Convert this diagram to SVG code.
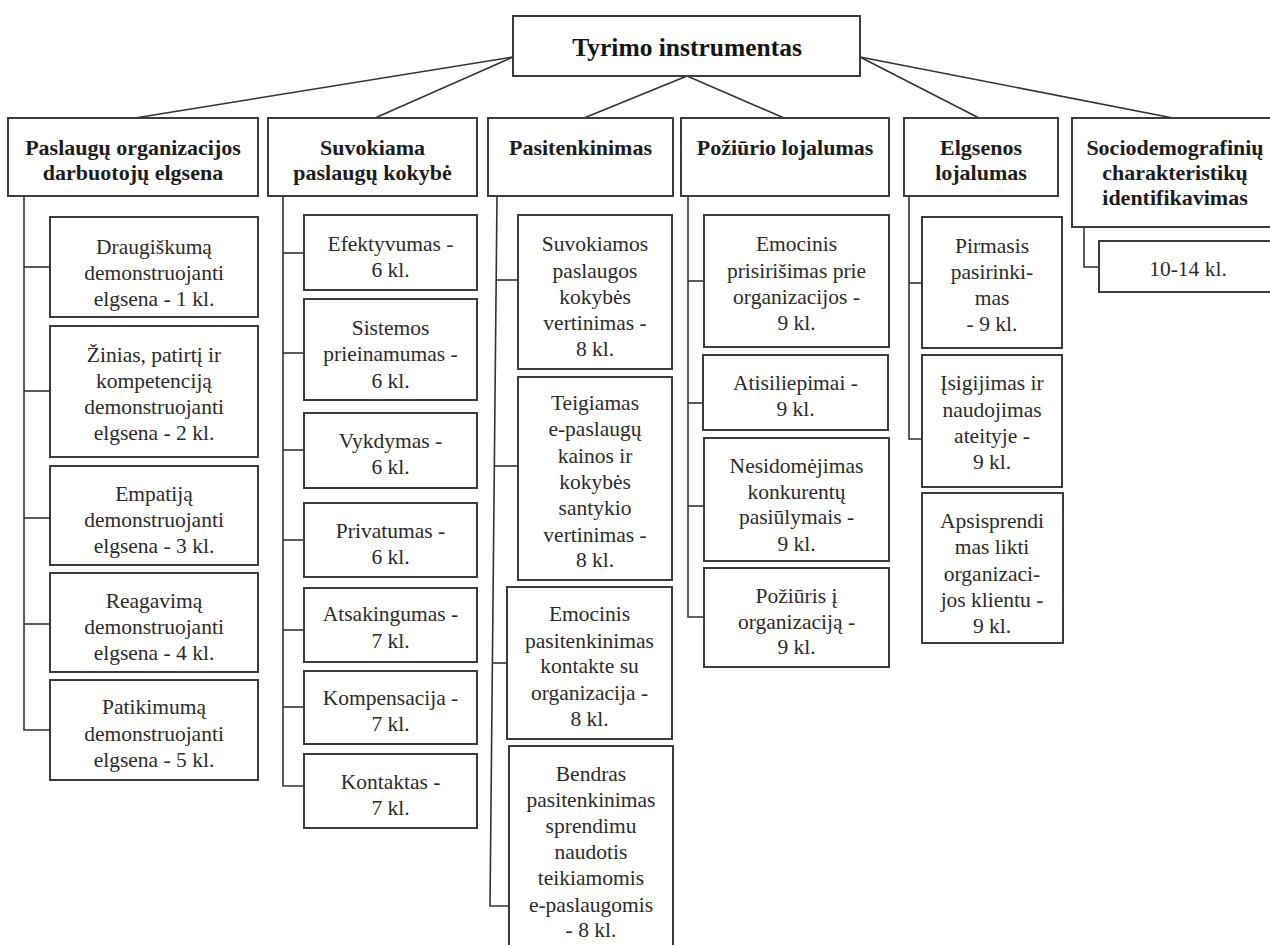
<svg xmlns="http://www.w3.org/2000/svg" width="1270" height="945" viewBox="0 0 1270 945">
  <style>
    .box { fill: #ffffff; stroke: #3c3c3c; stroke-width: 2; }
    .ln { fill: none; stroke: #333333; stroke-width: 1.6; }
    .t { font-size: 21.5px; fill: #2b2b2b; }
    .h { font-size: 22px; font-weight: bold; fill: #1c1c1c; }
    .r { font-size: 25.5px; font-weight: bold; fill: #141414; }
  </style>
  <rect width="1270" height="945" fill="#ffffff"/>

  <!-- connectors -->
  <g id="connectors" class="ln">
    <!-- root to first-level groups -->
    <line x1="513" y1="57" x2="135" y2="118"/>
    <line x1="513" y1="57" x2="375" y2="118"/>
    <line x1="687" y1="76" x2="584" y2="118"/>
    <line x1="687" y1="76" x2="784" y2="118"/>
    <line x1="860" y1="57" x2="979" y2="118"/>
    <line x1="860" y1="57" x2="1173" y2="118"/>
    <!-- column 1 spine and branches -->
    <polyline points="24,196 24,730 50,730"/>
    <line x1="24" y1="267" x2="50" y2="267"/>
    <line x1="24" y1="391" x2="50" y2="391"/>
    <line x1="24" y1="518" x2="50" y2="518"/>
    <line x1="24" y1="624" x2="50" y2="624"/>
    <!-- column 2 -->
    <polyline points="283,196 283,786 304,786"/>
    <line x1="283" y1="253" x2="304" y2="253"/>
    <line x1="283" y1="353" x2="304" y2="353"/>
    <line x1="283" y1="450" x2="304" y2="450"/>
    <line x1="283" y1="540" x2="304" y2="540"/>
    <line x1="283" y1="630" x2="304" y2="630"/>
    <line x1="283" y1="707" x2="304" y2="707"/>
    <!-- column 3 -->
    <polyline points="497,196 490,906 509,906"/>
    <line x1="496" y1="280" x2="518" y2="280"/>
    <line x1="495" y1="466" x2="518" y2="466"/>
    <line x1="492" y1="663" x2="507" y2="663"/>
    <!-- column 4 -->
    <polyline points="688,196 688,617 704,617"/>
    <line x1="688" y1="281" x2="704" y2="281"/>
    <line x1="688" y1="403" x2="703" y2="403"/>
    <line x1="688" y1="506" x2="704" y2="506"/>
    <!-- column 5 -->
    <polyline points="909,196 909,439 922,439"/>
    <line x1="909" y1="283" x2="922" y2="283"/>
    <!-- column 6 -->
    <polyline points="1084,227 1084,267 1099,267"/>
  </g>

  <g font-family="'Liberation Serif', 'Times New Roman', 'DejaVu Serif', serif" text-anchor="middle">
  <!-- root -->
  <g id="root">
    <rect class="box" x="513" y="16" width="347" height="60"/>
    <text class="r" x="687" y="56">Tyrimo instrumentas</text>
  </g>

  <!-- first-level groups -->
  <g id="g1">
    <rect class="box" x="8" y="118" width="250" height="78"/>
    <text class="h" x="133" y="155">Paslaugų organizacijos</text>
    <text class="h" x="133" y="180">darbuotojų elgsena</text>
  </g>
  <g id="g2">
    <rect class="box" x="268" y="118" width="209" height="78"/>
    <text class="h" x="372.5" y="155">Suvokiama</text>
    <text class="h" x="372.5" y="180">paslaugų kokybė</text>
  </g>
  <g id="g3">
    <rect class="box" x="488" y="118" width="185" height="78"/>
    <text class="h" x="580.5" y="155">Pasitenkinimas</text>
  </g>
  <g id="g4">
    <rect class="box" x="681" y="118" width="208" height="78"/>
    <text class="h" x="785" y="155">Požiūrio lojalumas</text>
  </g>
  <g id="g5">
    <rect class="box" x="904" y="118" width="154" height="78"/>
    <text class="h" x="981" y="155">Elgsenos</text>
    <text class="h" x="981" y="180">lojalumas</text>
  </g>
  <g id="g6">
    <rect class="box" x="1072" y="118" width="210" height="109"/>
    <text class="h" x="1175" y="155">Sociodemografinių</text>
    <text class="h" x="1175" y="180">charakteristikų</text>
    <text class="h" x="1175" y="205">identifikavimas</text>
  </g>

  <!-- column 1 items -->
  <g id="c1a">
    <rect class="box" x="50" y="217" width="208" height="100"/>
    <text class="t" x="154" y="254">Draugiškumą</text>
    <text class="t" x="154" y="280">demonstruojanti</text>
    <text class="t" x="154" y="306">elgsena - 1 kl.</text>
  </g>
  <g id="c1b">
    <rect class="box" x="50" y="326" width="208" height="131"/>
    <text class="t" x="154" y="362">Žinias, patirtį ir</text>
    <text class="t" x="154" y="388">kompetenciją</text>
    <text class="t" x="154" y="414">demonstruojanti</text>
    <text class="t" x="154" y="440">elgsena - 2 kl.</text>
  </g>
  <g id="c1c">
    <rect class="box" x="50" y="466" width="208" height="99"/>
    <text class="t" x="154" y="501">Empatiją</text>
    <text class="t" x="154" y="527">demonstruojanti</text>
    <text class="t" x="154" y="553">elgsena - 3 kl.</text>
  </g>
  <g id="c1d">
    <rect class="box" x="50" y="573" width="208" height="99"/>
    <text class="t" x="154" y="608">Reagavimą</text>
    <text class="t" x="154" y="634">demonstruojanti</text>
    <text class="t" x="154" y="660">elgsena - 4 kl.</text>
  </g>
  <g id="c1e">
    <rect class="box" x="50" y="680" width="208" height="100"/>
    <text class="t" x="154" y="714">Patikimumą</text>
    <text class="t" x="154" y="741">demonstruojanti</text>
    <text class="t" x="154" y="767">elgsena - 5 kl.</text>
  </g>

  <!-- column 2 items -->
  <g id="c2a">
    <rect class="box" x="304" y="215" width="173" height="75"/>
    <text class="t" x="390.5" y="251">Efektyvumas -</text>
    <text class="t" x="390.5" y="277">6 kl.</text>
  </g>
  <g id="c2b">
    <rect class="box" x="304" y="299" width="173" height="101"/>
    <text class="t" x="390.5" y="335">Sistemos</text>
    <text class="t" x="390.5" y="361">prieinamumas -</text>
    <text class="t" x="390.5" y="388">6 kl.</text>
  </g>
  <g id="c2c">
    <rect class="box" x="304" y="413" width="173" height="75"/>
    <text class="t" x="390.5" y="448">Vykdymas -</text>
    <text class="t" x="390.5" y="474">6 kl.</text>
  </g>
  <g id="c2d">
    <rect class="box" x="304" y="503" width="173" height="74"/>
    <text class="t" x="390.5" y="538">Privatumas -</text>
    <text class="t" x="390.5" y="564">6 kl.</text>
  </g>
  <g id="c2e">
    <rect class="box" x="304" y="588" width="173" height="74"/>
    <text class="t" x="390.5" y="621">Atsakingumas -</text>
    <text class="t" x="390.5" y="648">7 kl.</text>
  </g>
  <g id="c2f">
    <rect class="box" x="304" y="671" width="173" height="73"/>
    <text class="t" x="390.5" y="705">Kompensacija -</text>
    <text class="t" x="390.5" y="731">7 kl.</text>
  </g>
  <g id="c2g">
    <rect class="box" x="304" y="754" width="173" height="74"/>
    <text class="t" x="390.5" y="789">Kontaktas -</text>
    <text class="t" x="390.5" y="815">7 kl.</text>
  </g>

  <!-- column 3 items -->
  <g id="c3a">
    <rect class="box" x="518" y="215" width="154" height="154"/>
    <text class="t" x="595" y="251">Suvokiamos</text>
    <text class="t" x="595" y="278">paslaugos</text>
    <text class="t" x="595" y="304">kokybės</text>
    <text class="t" x="595" y="330">vertinimas -</text>
    <text class="t" x="595" y="356">8 kl.</text>
  </g>
  <g id="c3b">
    <rect class="box" x="518" y="377" width="154" height="203"/>
    <text class="t" x="595" y="410">Teigiamas</text>
    <text class="t" x="595" y="436">e-paslaugų</text>
    <text class="t" x="595" y="463">kainos ir</text>
    <text class="t" x="595" y="489">kokybės</text>
    <text class="t" x="595" y="515">santykio</text>
    <text class="t" x="595" y="542">vertinimas -</text>
    <text class="t" x="595" y="567">8 kl.</text>
  </g>
  <g id="c3c">
    <rect class="box" x="507" y="587" width="165" height="152"/>
    <text class="t" x="589.5" y="621">Emocinis</text>
    <text class="t" x="589.5" y="648">pasitenkinimas</text>
    <text class="t" x="589.5" y="673">kontakte su</text>
    <text class="t" x="589.5" y="700">organizacija -</text>
    <text class="t" x="589.5" y="726">8 kl.</text>
  </g>
  <g id="c3d">
    <rect class="box" x="509" y="746" width="164" height="215"/>
    <text class="t" x="591" y="781">Bendras</text>
    <text class="t" x="591" y="807">pasitenkinimas</text>
    <text class="t" x="591" y="833">sprendimu</text>
    <text class="t" x="591" y="859">naudotis</text>
    <text class="t" x="591" y="885">teikiamomis</text>
    <text class="t" x="591" y="912">e-paslaugomis</text>
    <text class="t" x="591" y="937">- 8 kl.</text>
  </g>

  <!-- column 4 items -->
  <g id="c4a">
    <rect class="box" x="704" y="215" width="185" height="132"/>
    <text class="t" x="796.5" y="251">Emocinis</text>
    <text class="t" x="796.5" y="278">prisirišimas prie</text>
    <text class="t" x="796.5" y="304">organizacijos -</text>
    <text class="t" x="796.5" y="330">9 kl.</text>
  </g>
  <g id="c4b">
    <rect class="box" x="703" y="355" width="185" height="75"/>
    <text class="t" x="795.5" y="390">Atisiliepimai -</text>
    <text class="t" x="795.5" y="416">9 kl.</text>
  </g>
  <g id="c4c">
    <rect class="box" x="704" y="438" width="185" height="123"/>
    <text class="t" x="796.5" y="473">Nesidomėjimas</text>
    <text class="t" x="796.5" y="499">konkurentų</text>
    <text class="t" x="796.5" y="524">pasiūlymais -</text>
    <text class="t" x="796.5" y="551">9 kl.</text>
  </g>
  <g id="c4d">
    <rect class="box" x="704" y="568" width="185" height="99"/>
    <text class="t" x="796.5" y="603">Požiūris į</text>
    <text class="t" x="796.5" y="629">organizaciją -</text>
    <text class="t" x="796.5" y="654">9 kl.</text>
  </g>

  <!-- column 5 items -->
  <g id="c5a">
    <rect class="box" x="922" y="217" width="140" height="131"/>
    <text class="t" x="992" y="253">Pirmasis</text>
    <text class="t" x="992" y="279">pasirinki-</text>
    <text class="t" x="992" y="305">mas</text>
    <text class="t" x="992" y="331">- 9 kl.</text>
  </g>
  <g id="c5b">
    <rect class="box" x="922" y="355" width="140" height="132"/>
    <text class="t" x="992" y="390">Įsigijimas ir</text>
    <text class="t" x="992" y="417">naudojimas</text>
    <text class="t" x="992" y="443">ateityje -</text>
    <text class="t" x="992" y="469">9 kl.</text>
  </g>
  <g id="c5c">
    <rect class="box" x="922" y="493" width="141" height="150"/>
    <text class="t" x="992" y="528">Apsisprendi</text>
    <text class="t" x="992" y="554">mas likti</text>
    <text class="t" x="992" y="581">organizaci-</text>
    <text class="t" x="992" y="607">jos klientu -</text>
    <text class="t" x="992" y="633">9 kl.</text>
  </g>

  <!-- column 6 item -->
  <g id="c6a">
    <rect class="box" x="1099" y="241" width="180" height="51"/>
    <text class="t" x="1188" y="276">10-14 kl.</text>
  </g>
  </g>
</svg>
